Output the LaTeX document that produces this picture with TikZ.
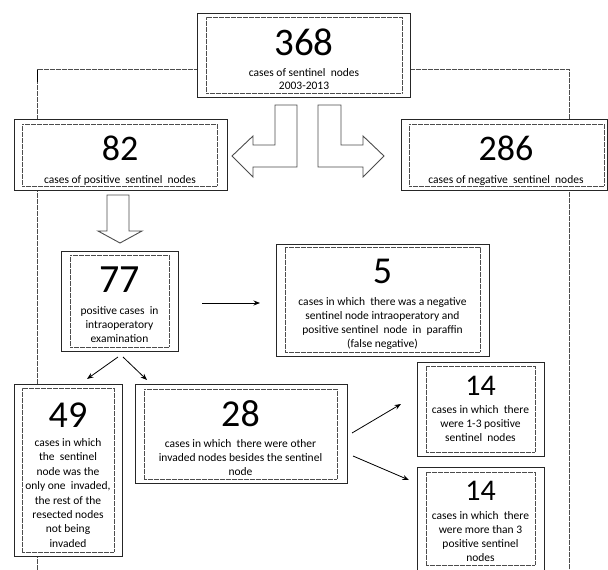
\documentclass[tikz,border=0pt]{standalone}
\usepackage{fontspec}
\setmainfont{Carlito}
\usetikzlibrary{arrows.meta,calc}
\newcommand\boxlines[5]{%
  \foreach \t [count=\i from 0] in {#5} {\node[txt] (#1-\i) at (#2,{#3+#4*\i}) {\t};}%
}
\begin{document}
\begin{tikzpicture}[x=1pt,y=-1pt,
  outerbox/.style={draw=black!85, line width=1pt, fill=white, inner sep=0pt, outer sep=0pt},
  innerbox/.style={draw=black!70, line width=0.6pt, dash pattern=on 0.6pt off 0.6pt, inner sep=0pt, outer sep=0pt},
  frame/.style={draw=black!70, line width=0.6pt, dash pattern=on 0.6pt off 0.6pt},
  blockarrow/.style={draw=black!70, line width=0.9pt, fill=white, line join=miter},
  arr/.style={draw=black, line width=0.8pt, -{Stealth[length=6.5pt,width=5pt]}},
  num/.style={anchor=base, inner sep=0pt, text=black},
  txt/.style={anchor=base, inner sep=0pt, text=black, font=\fontsize{11.5}{13}\selectfont},
]
\useasboundingbox (0,0) rectangle (608,570);
\clip (0,0) rectangle (608,570);

% dotted frame
\draw[frame] (37,570) -- (37,69) -- (569,69) -- (569,570);
\draw[line width=1.3pt] (37.5,70) -- (37.5,82);

% boxes
\node[outerbox, minimum width=213pt, minimum height=84pt] (b368) at (303.5,55) {};
\node[innerbox, minimum width=196pt, minimum height=76pt] (i368) at (304,55) {};

\node[outerbox, minimum width=213pt, minimum height=71pt] (b82) at (120.5,154.5) {};
\node[innerbox, minimum width=195pt, minimum height=62pt] (i82) at (119.5,155) {};

\node[outerbox, minimum width=206pt, minimum height=71pt] (b286) at (504,154.5) {};
\node[innerbox, minimum width=195pt, minimum height=62pt] (i286) at (506.5,155) {};

\node[outerbox, minimum width=117pt, minimum height=100pt] (b77) at (119.5,301) {};
\node[innerbox, minimum width=99pt, minimum height=92pt] (i77) at (119.5,301) {};

\node[outerbox, minimum width=213pt, minimum height=112pt] (b5) at (382.5,300) {};
\node[innerbox, minimum width=195pt, minimum height=105pt] (i5) at (382.5,299.5) {};

\node[outerbox, minimum width=108pt, minimum height=172pt] (b49) at (68,470) {};
\node[innerbox, minimum width=92pt, minimum height=164pt] (i49) at (68,470) {};

\node[outerbox, minimum width=212pt, minimum height=99pt] (b28) at (241,433.5) {};
\node[innerbox, minimum width=193pt, minimum height=90pt] (i28) at (240.5,434) {};

\node[outerbox, minimum width=127pt, minimum height=94pt] (b14a) at (480.5,409) {};
\node[innerbox, minimum width=109pt, minimum height=86pt] (i14a) at (480.5,409) {};

\node[outerbox, minimum width=127pt, minimum height=106pt] (b14b) at (480.5,520) {};
\node[innerbox, minimum width=109pt, minimum height=93pt] (i14b) at (480.5,518.5) {};

% block arrows
\draw[blockarrow] (275,105) -- (297,105) -- (297,167) -- (253,167) -- (253,177) -- (232,156) -- (253,136) -- (253,145) -- (275,145) -- cycle;
\draw[blockarrow] (318,105) -- (341,105) -- (341,145) -- (363,145) -- (363,136) -- (384,156) -- (363,177) -- (363,167) -- (318,167) -- cycle;
\draw[blockarrow] (107,195) -- (129,195) -- (129,231) -- (142,231) -- (120,243) -- (98,231) -- (107,231) -- cycle;

% texts
\node[num, font=\fontsize{39}{40}\selectfont] (n368) at (304,55) {368};
\boxlines{t368}{304}{76}{13.5}{{cases of sentinel~ nodes},{2003-2013}}

\node[num, font=\fontsize{36}{37}\selectfont] (n82) at (120,160) {82};
\boxlines{t82}{120}{183}{14}{{cases of positive~ sentinel~ nodes}}

\node[num, font=\fontsize{36}{37}\selectfont] (n286) at (506,160) {286};
\boxlines{t286}{506}{183}{14}{{cases of negative~ sentinel~ nodes}}

\node[num, font=\fontsize{40}{41}\selectfont] (n77) at (119.5,292) {77};
\boxlines{t77}{119.5}{314}{14.4}{{positive cases~ in},{intraoperatory},{examination}}

\node[num, font=\fontsize{38}{39}\selectfont] (n5) at (382.5,283) {5};
\boxlines{t5}{382.5}{305}{14.3}{{cases in which~ there was a negative},{sentinel node intraoperatory and},{positive sentinel~ node~ in~ paraffin},{(false negative)}}

\node[num, font=\fontsize{38}{39}\selectfont] (n49) at (68,427) {49};
\boxlines{t49}{68}{446.5}{14.4}{{cases in which},{the~ sentinel},{node was the},{only one~ invaded,},{the rest of the},{resected nodes},{not being},{invaded}}

\node[num, font=\fontsize{38}{39}\selectfont] (n28) at (240.5,426.5) {28};
\boxlines{t28}{240.5}{447}{14.4}{{cases in which~ there were other},{invaded nodes besides the sentinel},{node}}

\node[num, font=\fontsize{30}{31}\selectfont] (n14a) at (480.5,395) {14};
\boxlines{t14a}{480.5}{413}{14.4}{{cases in which~ there},{were 1-3 positive},{sentinel~ nodes}}

\node[num, font=\fontsize{30}{31}\selectfont] (n14b) at (480.5,500) {14};
\boxlines{t14b}{480.5}{519}{14.3}{{cases in which~ there},{were more than 3},{positive sentinel},{nodes}}

% thin arrows
\draw[arr] ($(b77.east)+(24,2)$) -- ($(b5.west)+(-16,3)$);
\draw[arr] ($(b77.south)+(-1.5,6)$) -- ($(b49.north)+(19,-5)$);
\draw[arr] ($(b77.south)+(3.5,6)$) -- ($(b28.north west)+(12,-4)$);
\draw[arr] ($(b28.east)+(5,-0.5)$) -- ($(b14a.west)+(-16,-5)$);
\draw[arr] ($(b28.south east)+(6,-27)$) -- ($(b14b.north west)+(-8,13)$);
\end{tikzpicture}
\end{document}
